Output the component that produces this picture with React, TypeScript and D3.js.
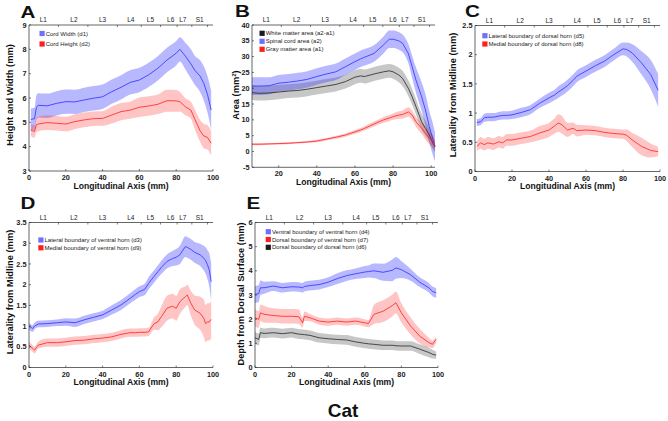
import React from "react";
import * as d3 from "d3";

const FONT = "'Liberation Sans', Arial, Helvetica, sans-serif";

// Vertebral level labels on the top axis (0-100 along the axis width)
const vertLabels = ["L1", "L2", "L3", "L4", "L5", "L6", "L7", "S1"];
const vertPos = [7.8, 24.4, 40, 55.3, 66, 77, 83.6, 92.8];
const vertBounds = [16, 32, 48, 61, 71.5, 80.5, 88.5, 97];

// ---------- Panel A ----------
const xA = [1, 3, 4, 5, 10, 15, 20, 25, 30, 35, 40, 45, 50, 55, 60, 65, 70, 75, 80, 82, 85, 88, 90, 93, 95, 97, 99];
const cordWidth = [5.12, 5.15, 5.6, 5.7, 5.68, 5.78, 5.85, 5.84, 5.92, 5.99, 6.05, 6.26, 6.44, 6.64, 6.74, 6.95, 7.22, 7.56, 7.84, 8.0, 7.72, 7.4, 7.15, 6.9, 6.6, 6.15, 5.5];
const cordWidthSd = [0.45, 0.45, 0.5, 0.5, 0.5, 0.5, 0.5, 0.5, 0.5, 0.5, 0.5, 0.5, 0.5, 0.5, 0.5, 0.5, 0.5, 0.5, 0.5, 0.5, 0.55, 0.6, 0.6, 0.65, 0.7, 0.75, 0.8];
const cordHeight = [4.68, 4.62, 4.9, 4.93, 4.99, 4.96, 4.93, 5.03, 5.1, 5.15, 5.16, 5.3, 5.44, 5.5, 5.62, 5.67, 5.74, 5.89, 5.88, 5.85, 5.64, 5.5, 5.15, 4.65, 4.44, 4.38, 4.14];
const cordHeightSd = [0.25, 0.25, 0.3, 0.3, 0.3, 0.3, 0.3, 0.3, 0.3, 0.3, 0.3, 0.35, 0.35, 0.35, 0.4, 0.4, 0.4, 0.45, 0.45, 0.4, 0.35, 0.35, 0.4, 0.45, 0.5, 0.5, 0.5];
const yTicksA = [3, 4, 5, 6, 7, 8, 9];

// ---------- Panel B ----------
const xB = [6, 10, 15, 20, 25, 30, 35, 40, 45, 50, 55, 60, 63, 65, 70, 75, 78, 80, 83, 85, 88, 90, 92, 95, 97, 99, 101, 102];
const whiteMatter = [18.6, 18.4, 18.5, 18.8, 19.1, 19.3, 19.7, 20.2, 20.7, 21.2, 22.1, 23.5, 23.9, 23.7, 24.5, 25.2, 25.5, 25.2, 24.2, 23.1, 20, 17.3, 14.2, 9.4, 7.3, 5.2, 2.6, 1.5];
const whiteMatterSd = [2.3, 2.3, 2.3, 2.3, 2.2, 2.2, 2.2, 2.2, 2.2, 2.2, 2.2, 2.2, 2.2, 2.2, 2.2, 2.2, 2.2, 2.2, 2.3, 2.4, 2.5, 2.5, 2.5, 2.5, 2.4, 2.2, 2, 1.8];
const spinalArea = [20.7, 20.7, 20.8, 21.6, 21.9, 22.3, 22.8, 23.7, 24.5, 25.2, 26.8, 28.4, 29.3, 29.8, 31, 33.7, 35.5, 35.5, 35, 34.2, 31, 26.8, 22.6, 17.3, 13.1, 7.9, 3.6, 1.5];
const spinalAreaSd = [2.8, 2.8, 2.7, 2.6, 2.6, 2.6, 2.6, 2.6, 2.6, 2.6, 2.6, 2.6, 2.6, 2.6, 2.6, 2.7, 2.8, 2.8, 2.8, 2.8, 3, 3.5, 4, 4.5, 5, 5, 5, 4.5];
const grayMatter = [2.3, 2.3, 2.4, 2.5, 2.6, 2.8, 3.0, 3.3, 3.9, 4.5, 5.2, 6.2, 6.8, 7.3, 8.7, 10, 10.6, 11, 11.5, 11.7, 12.5, 11.5, 9.4, 7.3, 5.8, 4.2, 3.1, 1.8];
const grayMatterSd = [0.3, 0.3, 0.3, 0.3, 0.3, 0.3, 0.3, 0.4, 0.4, 0.5, 0.5, 0.6, 0.6, 0.7, 0.8, 0.9, 1, 1, 1.2, 1.3, 1.5, 1.5, 1.6, 1.8, 2, 2, 2, 1.5];
const yTicksB = [-5, 0, 5, 10, 15, 20, 25, 30, 35, 40];
const xTicksB = [20, 40, 60, 80, 100];

// ---------- Panel C ----------
const xC = [1, 3, 5, 7, 10, 13, 15, 17, 20, 25, 30, 35, 40, 43, 45, 47, 50, 53, 55, 60, 65, 70, 75, 80, 82, 85, 90, 95, 99];
const lateralDorsal = [0.84, 0.85, 0.92, 0.93, 0.93, 0.95, 0.96, 0.96, 0.97, 1.01, 1.06, 1.17, 1.26, 1.31, 1.36, 1.4, 1.47, 1.56, 1.63, 1.72, 1.81, 1.89, 2.0, 2.1, 2.09, 2.03, 1.86, 1.66, 1.39];
const lateralDorsalSd = [0.06, 0.06, 0.07, 0.07, 0.07, 0.07, 0.07, 0.07, 0.07, 0.08, 0.08, 0.08, 0.09, 0.09, 0.1, 0.1, 0.1, 0.1, 0.1, 0.1, 0.1, 0.1, 0.1, 0.11, 0.12, 0.15, 0.2, 0.25, 0.28];
const medialDorsal = [0.43, 0.49, 0.46, 0.49, 0.47, 0.51, 0.49, 0.54, 0.54, 0.57, 0.6, 0.66, 0.71, 0.78, 0.83, 0.8, 0.71, 0.74, 0.7, 0.71, 0.7, 0.67, 0.65, 0.64, 0.62, 0.54, 0.43, 0.36, 0.34];
const medialDorsalSd = [0.08, 0.1, 0.1, 0.1, 0.1, 0.1, 0.1, 0.1, 0.1, 0.1, 0.1, 0.12, 0.12, 0.13, 0.15, 0.15, 0.12, 0.1, 0.1, 0.08, 0.08, 0.08, 0.08, 0.08, 0.1, 0.12, 0.15, 0.12, 0.08];
const yTicksC = [0, 0.5, 1, 1.5, 2, 2.5];

// ---------- Panel D ----------
const xD = [0, 2, 3, 5, 10, 15, 20, 25, 30, 35, 40, 45, 50, 55, 58, 60, 63, 65, 68, 70, 72, 75, 78, 80, 82, 85, 86, 88, 90, 93, 95, 96, 97, 98, 99];
const lateralVentral = [1.0, 0.94, 1.0, 1.05, 1.06, 1.08, 1.1, 1.08, 1.15, 1.21, 1.27, 1.39, 1.51, 1.67, 1.77, 1.83, 1.89, 2.03, 2.2, 2.31, 2.42, 2.56, 2.63, 2.66, 2.72, 2.92, 2.9, 2.85, 2.78, 2.72, 2.64, 2.58, 2.48, 2.35, 2.07];
const lateralVentralSd = [0.08, 0.08, 0.08, 0.08, 0.08, 0.08, 0.09, 0.1, 0.1, 0.1, 0.1, 0.11, 0.12, 0.12, 0.13, 0.13, 0.14, 0.15, 0.15, 0.15, 0.16, 0.17, 0.18, 0.2, 0.22, 0.25, 0.25, 0.25, 0.25, 0.27, 0.3, 0.32, 0.35, 0.4, 0.45];
const medialVentral = [0.54, 0.46, 0.42, 0.54, 0.6, 0.6, 0.62, 0.65, 0.66, 0.69, 0.71, 0.74, 0.8, 0.84, 0.84, 0.85, 0.85, 0.86, 1.06, 1.1, 1.23, 1.43, 1.48, 1.43, 1.59, 1.71, 1.75, 1.55, 1.39, 1.31, 1.19, 1.06, 1.1, 1.1, 1.16];
const medialVentralSd = [0.08, 0.08, 0.08, 0.08, 0.1, 0.1, 0.1, 0.1, 0.1, 0.1, 0.1, 0.1, 0.1, 0.1, 0.1, 0.1, 0.1, 0.1, 0.15, 0.2, 0.25, 0.3, 0.3, 0.3, 0.3, 0.25, 0.25, 0.3, 0.35, 0.4, 0.45, 0.45, 0.45, 0.45, 0.45];
const yTicksD = [0, 0.5, 1, 1.5, 2, 2.5, 3, 3.5];

// ---------- Panel E ----------
const xE = [0, 2, 3, 5, 10, 15, 20, 24, 26, 27, 30, 35, 40, 45, 50, 55, 60, 62, 65, 70, 75, 77, 80, 85, 90, 95, 97, 99];
const ventralVentral = [3.02, 3.06, 3.3, 3.3, 3.37, 3.3, 3.34, 3.33, 3.3, 3.35, 3.39, 3.43, 3.53, 3.68, 3.8, 3.88, 3.95, 3.97, 4.0, 3.94, 4.02, 4.12, 4.05, 3.84, 3.53, 3.3, 3.15, 3.09];
const ventralVentralSd = [0.35, 0.35, 0.3, 0.25, 0.2, 0.2, 0.2, 0.2, 0.2, 0.2, 0.2, 0.2, 0.2, 0.22, 0.22, 0.22, 0.25, 0.25, 0.3, 0.35, 0.45, 0.45, 0.35, 0.25, 0.2, 0.2, 0.2, 0.2];
const dorsalVentral = [2.06, 1.99, 2.26, 2.2, 2.15, 2.12, 2.12, 2.1, 1.85, 2.12, 2.06, 1.92, 1.88, 1.92, 1.88, 1.92, 1.85, 1.82, 2.2, 2.33, 2.56, 2.68, 2.26, 1.72, 1.3, 1.03, 0.96, 1.17];
const dorsalVentralSd = [0.35, 0.35, 0.35, 0.35, 0.3, 0.3, 0.3, 0.3, 0.2, 0.2, 0.15, 0.15, 0.15, 0.15, 0.15, 0.15, 0.15, 0.15, 0.4, 0.45, 0.45, 0.45, 0.4, 0.35, 0.3, 0.2, 0.15, 0.12];
const dorsalDorsal = [1.23, 1.16, 1.44, 1.41, 1.44, 1.4, 1.44, 1.38, 1.37, 1.36, 1.33, 1.23, 1.19, 1.16, 1.14, 1.06, 1.0, 0.98, 0.96, 0.92, 0.92, 0.9, 0.89, 0.89, 0.76, 0.62, 0.55, 0.51];
const dorsalDorsalSd = [0.25, 0.25, 0.22, 0.2, 0.2, 0.2, 0.2, 0.2, 0.2, 0.2, 0.2, 0.2, 0.2, 0.2, 0.2, 0.2, 0.2, 0.2, 0.2, 0.2, 0.2, 0.2, 0.2, 0.2, 0.2, 0.2, 0.18, 0.15];
const yTicksE = [0, 1, 2, 3, 4, 5, 6];

const xTicks = [0, 20, 40, 60, 80, 100];

const BLUE = { line: "#2f2fff", fill: "#3333ff", op: 0.35, key: "#6f6fff" };
const RED = { line: "#ff2020", fill: "#ff2a2a", op: 0.28, key: "#ff1e1e" };
const BLACK = { line: "#262626", fill: "#444444", op: 0.3, key: "#1a1a1a" };

type Series = { xs: number[]; mean: number[]; sd: number[]; c: typeof BLUE; label: string };
type PanelDef = {
  letter: string; lx: number; ly: number;
  left: number; right: number; top: number; bottom: number;
  xDomain: [number, number]; yDomain: [number, number];
  xTicks: number[]; yTicks: number[];
  ylabel: React.ReactNode; ylabelX: number; ylabelY: number;
  series: Series[]; legendOrder: number[];
  legX: number; legY: number; legStep: number;
};

const panels: PanelDef[] = [
  {
    letter: "A", lx: 20.5, ly: 18.3, left: 29, right: 213, top: 25, bottom: 171,
    xDomain: [0, 100], yDomain: [3, 9], xTicks, yTicks: yTicksA,
    ylabel: "Height and Width (mm)", ylabelX: 12.8, ylabelY: 95,
    series: [
      { xs: xA, mean: cordWidth, sd: cordWidthSd, c: BLUE, label: "Cord Width (d1)" },
      { xs: xA, mean: cordHeight, sd: cordHeightSd, c: RED, label: "Cord Height (d2)" },
    ],
    legendOrder: [0, 1], legX: 39.5, legY: 33.5, legStep: 10.5,
  },
  {
    letter: "B", lx: 235, ly: 16.7, left: 252, right: 435, top: 25, bottom: 167.3,
    xDomain: [6, 102], yDomain: [-5, 40], xTicks: xTicksB, yTicks: yTicksB,
    ylabel: (<>Area (mm<tspan dy={-3} fontSize={6}>2</tspan><tspan dy={3}>)</tspan></>), ylabelX: 239, ylabelY: 95,
    series: [
      { xs: xB, mean: whiteMatter, sd: whiteMatterSd, c: BLACK, label: "White matter area (a2-a1)" },
      { xs: xB, mean: spinalArea, sd: spinalAreaSd, c: BLUE, label: "Spinal cord area (a2)" },
      { xs: xB, mean: grayMatter, sd: grayMatterSd, c: RED, label: "Gray matter area (a1)" },
    ],
    legendOrder: [0, 1, 2], legX: 259.5, legY: 33.3, legStep: 8,
  },
  {
    letter: "C", lx: 465, ly: 17, left: 475, right: 660, top: 25.5, bottom: 171.5,
    xDomain: [0, 100], yDomain: [0, 2.5], xTicks, yTicks: yTicksC,
    ylabel: "Laterality from Midline (mm)", ylabelX: 456, ylabelY: 95,
    series: [
      { xs: xC, mean: lateralDorsal, sd: lateralDorsalSd, c: BLUE, label: "Lateral boundary of dorsal horn (d5)" },
      { xs: xC, mean: medialDorsal, sd: medialDorsalSd, c: RED, label: "Medial boundary of dorsal horn (d8)" },
    ],
    legendOrder: [0, 1], legX: 482.3, legY: 35.7, legStep: 8.3,
  },
  {
    letter: "D", lx: 20.5, ly: 209, left: 29, right: 213, top: 222.5, bottom: 367.5,
    xDomain: [0, 100], yDomain: [0, 3.5], xTicks, yTicks: yTicksD,
    ylabel: "Laterality from Midline (mm)", ylabelX: 12.8, ylabelY: 292,
    series: [
      { xs: xD, mean: lateralVentral, sd: lateralVentralSd, c: BLUE, label: "Lateral boundary of ventral horn (d3)" },
      { xs: xD, mean: medialVentral, sd: medialVentralSd, c: RED, label: "Medial boundary of ventral horn (d9)" },
    ],
    legendOrder: [0, 1], legX: 38.3, legY: 240, legStep: 7.8,
  },
  {
    letter: "E", lx: 246.5, ly: 209, left: 255, right: 438, top: 222.5, bottom: 367.5,
    xDomain: [0, 100], yDomain: [0, 6], xTicks, yTicks: yTicksE,
    ylabel: "Depth from Dorsal Surface (mm)", ylabelX: 243.5, ylabelY: 294,
    series: [
      { xs: xE, mean: ventralVentral, sd: ventralVentralSd, c: BLUE, label: "Ventral boundary of ventral horn (d4)" },
      { xs: xE, mean: dorsalVentral, sd: dorsalVentralSd, c: RED, label: "Dorsal boundary of ventral horn (d7)" },
      { xs: xE, mean: dorsalDorsal, sd: dorsalDorsalSd, c: BLACK, label: "Dorsal boundary of dorsal horn (d6)" },
    ],
    legendOrder: [0, 1, 2], legX: 265.7, legY: 231.7, legStep: 7.8,
  },
];

const AX = "#262626";

function Panel({ p }: { p: PanelDef }) {
  const x = d3.scaleLinear().domain(p.xDomain).range([p.left, p.right]);
  const y = d3.scaleLinear().domain(p.yDomain).range([p.bottom, p.top]);
  const top = d3.scaleLinear().domain([0, 100]).range([p.left, p.right]);
  const fmt = (v: number) => String(v);

  return (
    <g>
      {/* bands */}
      {p.series.map((s, k) => {
        const idx = d3.range(s.xs.length);
        const area = d3.area<number>()
          .x((i) => x(s.xs[i]))
          .y0((i) => y(s.mean[i] - s.sd[i]))
          .y1((i) => y(s.mean[i] + s.sd[i]))
          .curve(d3.curveMonotoneX);
        return <path key={"b" + k} d={area(idx) || ""} fill={s.c.fill} fillOpacity={s.c.op} stroke="none" />;
      })}
      {/* lines */}
      {p.series.map((s, k) => {
        const idx = d3.range(s.xs.length);
        const line = d3.line<number>()
          .x((i) => x(s.xs[i]))
          .y((i) => y(s.mean[i]));
        return <path key={"l" + k} d={line(idx) || ""} fill="none" stroke={s.c.line} strokeWidth={0.8} />;
      })}

      {/* axes lines */}
      <line x1={p.left} x2={p.left} y1={p.top} y2={p.bottom} stroke={AX} strokeWidth={0.7} />
      <line x1={p.left} x2={p.right} y1={p.bottom} y2={p.bottom} stroke={AX} strokeWidth={0.7} />
      <line x1={p.left} x2={p.right} y1={p.top} y2={p.top} stroke={AX} strokeWidth={0.7} />

      {/* y ticks */}
      {p.yTicks.map((t) => (
        <g key={"y" + t}>
          <line x1={p.left} x2={p.left + 2} y1={y(t)} y2={y(t)} stroke={AX} strokeWidth={0.6} />
          <text x={p.left - 2.5} y={y(t) + 2.6} textAnchor="end" fontSize={7.3} fontWeight="bold" fill="#222" fontFamily={FONT}>{fmt(t)}</text>
        </g>
      ))}
      {/* x ticks */}
      {p.xTicks.map((t) => (
        <g key={"x" + t}>
          <line x1={x(t)} x2={x(t)} y1={p.bottom} y2={p.bottom - 2} stroke={AX} strokeWidth={0.6} />
          <text x={x(t)} y={p.bottom + 9} textAnchor="middle" fontSize={7.3} fontWeight="bold" fill="#222" fontFamily={FONT}>{fmt(t)}</text>
        </g>
      ))}
      {/* top vertebral axis */}
      {vertBounds.map((t) => (
        <line key={"vb" + t} x1={top(t)} x2={top(t)} y1={p.top} y2={p.top + 2} stroke={AX} strokeWidth={0.6} />
      ))}
      {vertLabels.map((l, i) => (
        <text key={l} x={top(vertPos[i])} y={p.top - 2.8} textAnchor="middle" fontSize={6.5} fill="#222" fontFamily={FONT}>{l}</text>
      ))}

      {/* x label */}
      <text x={(p.left + p.right) / 2} y={p.bottom + 17.5} textAnchor="middle" fontSize={8.6} fontWeight="bold" fill="#111" fontFamily={FONT}>Longitudinal Axis (mm)</text>
      {/* y label */}
      <text transform={`translate(${p.ylabelX},${p.ylabelY}) rotate(-90)`} textAnchor="middle" fontSize={9.3} fontWeight="bold" fill="#111" fontFamily={FONT}>{p.ylabel}</text>

      {/* legend */}
      {p.legendOrder.map((si, k) => {
        const s = p.series[si];
        const cy = p.legY + k * p.legStep;
        return (
          <g key={"lg" + k}>
            <rect x={p.legX} y={cy - 2.6} width={5.2} height={5.2} fill={s.c.key} />
            <text x={p.legX + 6.2} y={cy + 2.1} fontSize={6} fill="#222" fontFamily={FONT}>{s.label}</text>
          </g>
        );
      })}

      {/* panel letter */}
      <text transform={`translate(${p.lx},${p.ly}) scale(1.25,1)`} fontSize={16.5} fontWeight="bold" fill="#111" fontFamily={FONT}>{p.letter}</text>
    </g>
  );
}

export default function App() {
  return (
    <svg width={668} height={421} viewBox="0 0 668 421" style={{ position: "absolute", left: 0, top: 0, background: "#fff" }}>
      <rect x={0} y={0} width={668} height={421} fill="#fff" />
      {panels.map((p) => <Panel key={p.letter} p={p} />)}
      <text x={343} y={417} textAnchor="middle" fontSize={19} fontWeight="bold" fill="#111" fontFamily={FONT}>Cat</text>
    </svg>
  );
}
